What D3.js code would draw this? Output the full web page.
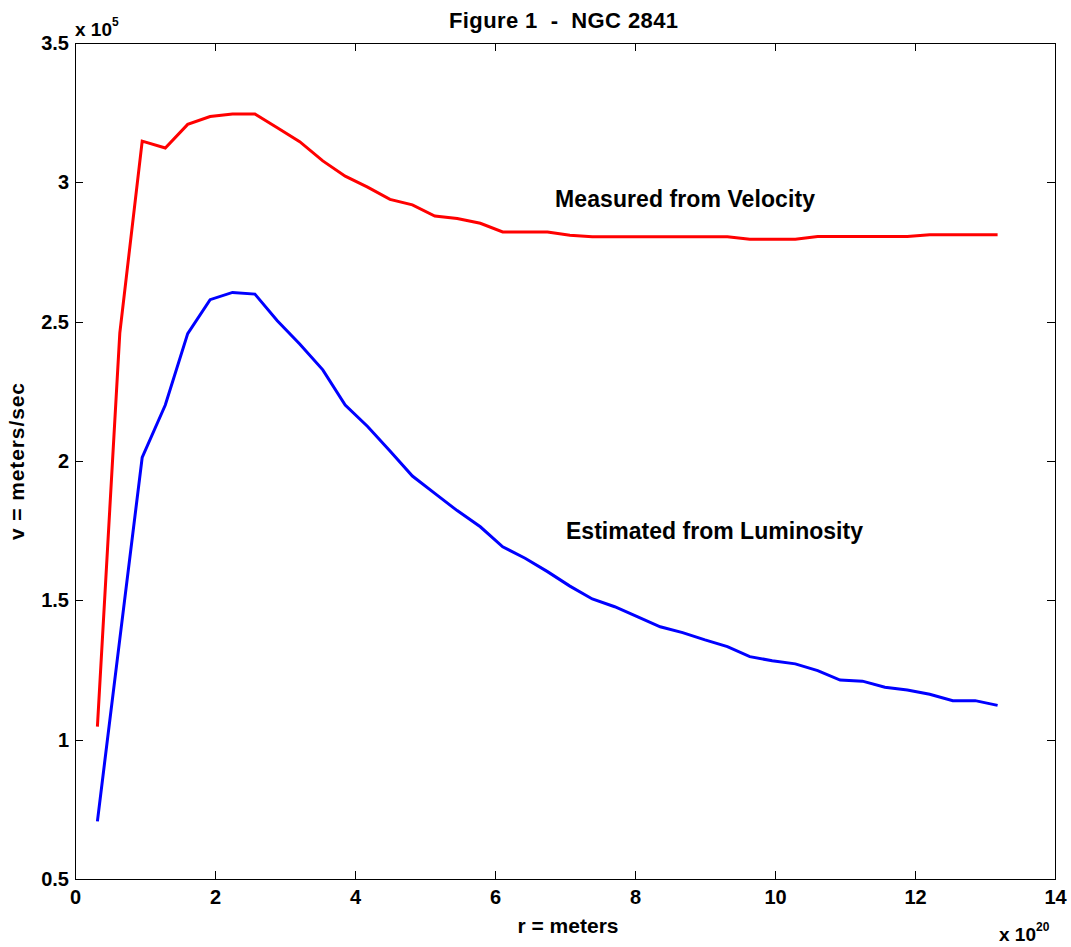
<!DOCTYPE html>
<html lang="en">
    <head>
        <meta charset="utf-8">
        <title>Figure 1 - NGC 2841</title>
        <script src="https://cdn.jsdelivr.net/npm/d3@7"></script>
        <style>
            body { margin: 0; background: #fff; }
            text { font-family: "Liberation Sans", Arial, sans-serif; font-weight: bold; fill: #000; white-space: pre; }
            .axis path, .axis line { stroke: #000; shape-rendering: crispEdges; }
            .axis text { font-size: 20px; }
        </style>
    </head>
    <body>
        <script>
            //Chart size
            var w = 1071;
            var h = 947;
            var margin = {left: 75, right: 16, top: 43, bottom: 68};

            //Radius in units of 10^20 m (one sample every ~0.32)
            var radius = [0.32, 0.64, 0.96, 1.29, 1.61, 1.93, 2.25, 2.57, 2.89, 3.21,
                          3.54, 3.86, 4.18, 4.50, 4.82, 5.14, 5.46, 5.79, 6.11, 6.43,
                          6.75, 7.07, 7.39, 7.71, 8.04, 8.36, 8.68, 9.00, 9.32, 9.64,
                          9.96, 10.29, 10.61, 10.93, 11.25, 11.57, 11.89, 12.21, 12.54, 12.86,
                          13.18];

            //Velocity in units of 10^5 m/s, measured (red)
            var measured = [1.047, 2.459, 3.148, 3.123, 3.208, 3.236, 3.245, 3.245, 3.196, 3.146,
                            3.077, 3.022, 2.983, 2.939, 2.919, 2.879, 2.870, 2.853, 2.822, 2.822,
                            2.822, 2.810, 2.805, 2.805, 2.805, 2.805, 2.805, 2.805, 2.805, 2.796,
                            2.796, 2.796, 2.806, 2.806, 2.806, 2.806, 2.806, 2.812, 2.812, 2.812,
                            2.812];

            //Velocity estimated from luminosity (blue)
            var luminous = [0.707, 1.361, 2.013, 2.201, 2.457, 2.579, 2.605, 2.599, 2.503, 2.420,
                            2.327, 2.201, 2.124, 2.036, 1.946, 1.884, 1.822, 1.764, 1.692, 1.651,
                            1.603, 1.551, 1.505, 1.477, 1.441, 1.405, 1.384, 1.358, 1.334, 1.298,
                            1.283, 1.272, 1.248, 1.214, 1.210, 1.188, 1.178, 1.163, 1.140, 1.140,
                            1.123];

            var xTicks = [0, 2, 4, 6, 8, 10, 12, 14];
            var yTicks = [0.5, 1, 1.5, 2, 2.5, 3, 3.5];

            var svg = d3.select("body")
                        .append("svg")
                        .attr("width", w)
                        .attr("height", h);

            //Scales
            var xScale = d3.scaleLinear()
                            .domain([0, 14])
                            .range([margin.left, w - margin.right]);

            var yScale = d3.scaleLinear()
                            .domain([0.5, 3.5])
                            .range([h - margin.bottom, margin.top]);

            //Axes (ticks point inward, mirrored on top and right like matlab)
            var fmt = function(d) { return String(d); };
            var tickLen = 8;

            svg.append("g")
                .attr("class", "axis")
                .attr("transform", "translate(0," + (h - margin.bottom) + ")")
                .call(d3.axisBottom(xScale).tickValues(xTicks).tickFormat(fmt)
                        .tickSizeInner(-tickLen).tickSizeOuter(0).tickPadding(11));

            svg.append("g")
                .attr("class", "axis")
                .attr("transform", "translate(0," + margin.top + ")")
                .call(d3.axisTop(xScale).tickValues(xTicks).tickFormat("")
                        .tickSizeInner(-tickLen).tickSizeOuter(0));

            svg.append("g")
                .attr("class", "axis")
                .attr("transform", "translate(" + margin.left + ",0)")
                .call(d3.axisLeft(yScale).tickValues(yTicks).tickFormat(fmt)
                        .tickSizeInner(-tickLen).tickSizeOuter(0).tickPadding(6));

            svg.append("g")
                .attr("class", "axis")
                .attr("transform", "translate(" + (w - margin.right) + ",0)")
                .call(d3.axisRight(yScale).tickValues(yTicks).tickFormat("")
                        .tickSizeInner(-tickLen).tickSizeOuter(0));

            //Lines
            var line = d3.line()
                        .x(function(d, i) { return xScale(radius[i]); })
                        .y(function(d) { return yScale(d); });

            svg.append("path")
                .datum(measured)
                .attr("d", line)
                .attr("fill", "none")
                .attr("stroke", "#ff0000")
                .attr("stroke-width", 3);

            svg.append("path")
                .datum(luminous)
                .attr("d", line)
                .attr("fill", "none")
                .attr("stroke", "#0000ff")
                .attr("stroke-width", 3);

            //Labels
            svg.append("text")
                .attr("x", 449).attr("y", 28)
                .attr("font-size", "22px")
                .attr("textLength", 229)
                .text("Figure 1  -  NGC 2841");

            svg.append("text")
                .attr("x", 555).attr("y", 207)
                .attr("font-size", "23px")
                .attr("textLength", 260)
                .text("Measured from Velocity");

            svg.append("text")
                .attr("x", 566).attr("y", 539)
                .attr("font-size", "23px")
                .attr("textLength", 297)
                .text("Estimated from Luminosity");

            svg.append("text")
                .attr("x", 568).attr("y", 933)
                .attr("text-anchor", "middle")
                .attr("font-size", "21px")
                .text("r = meters");

            svg.append("text")
                .attr("transform", "translate(24,540) rotate(-90)")
                .attr("font-size", "21px")
                .attr("textLength", 157)
                .text("v = meters/sec");

            //Exponent labels
            var e1 = svg.append("text").attr("x", 75).attr("y", 36).attr("font-size", "19px");
            e1.append("tspan").text("x 10");
            e1.append("tspan").attr("dy", -10).attr("font-size", "12px").text("5");

            var e2 = svg.append("text").attr("x", 999).attr("y", 941).attr("font-size", "19px");
            e2.append("tspan").text("x 10");
            e2.append("tspan").attr("dy", -10).attr("font-size", "12px").text("20");
        </script>
    </body>
</html>
